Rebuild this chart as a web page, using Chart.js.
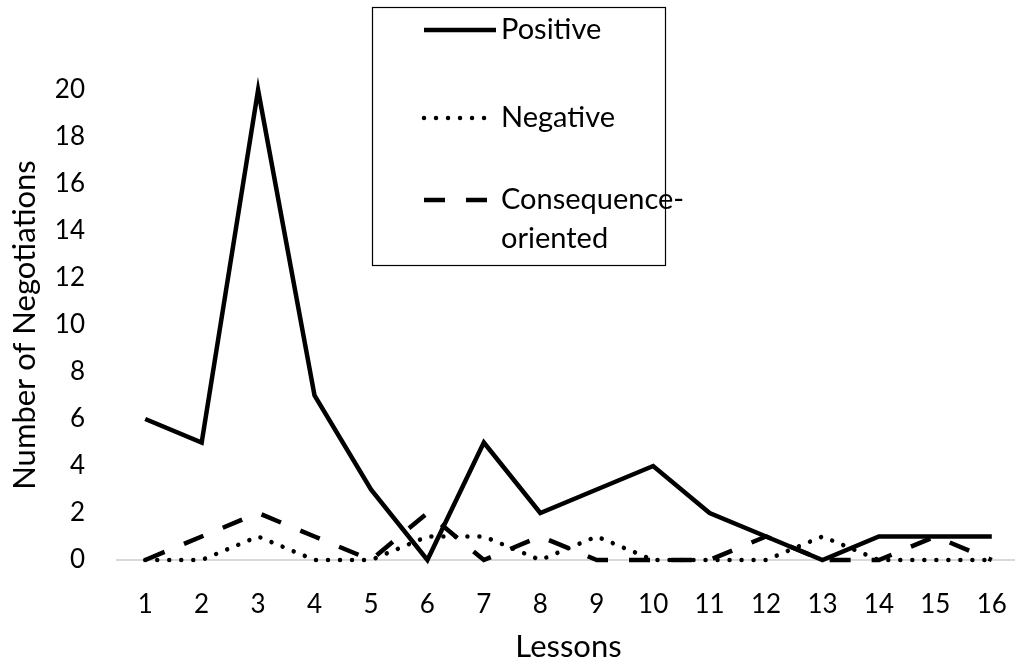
<!DOCTYPE html>
<html>
<head>
<meta charset="utf-8">
<script src="https://cdn.jsdelivr.net/npm/chart.js@4/dist/chart.umd.min.js"></script>
<style>
html,body{margin:0;padding:0;background:#fff;overflow:hidden;}
#wrap{width:1015px;height:666px;position:relative;overflow:hidden;}
</style>
</head>
<body>
<div id="wrap"><canvas id="c" width="1020" height="666"></canvas></div>
<script>
const lessons = ['1','2','3','4','5','6','7','8','9','10','11','12','13','14','15','16'];
const positive = [6,5,20,7,3,0,5,2,3,4,2,1,0,1,1,1];
const negative = [0,0,1,0,0,1,1,0,1,0,0,0,1,0,0,0];
const consequence = [0,1,2,1,0,2,0,1,0,0,0,1,0,0,1,0];
const legendLabels = [['Positive'], ['Negative'], ['Consequence-', 'oriented']];

const FONT = 'Lato, "Liberation Sans", sans-serif';

const boxLegend = {
  id: 'boxLegend',
  afterDraw(chart) {
    const ctx = chart.ctx;
    ctx.save();
    ctx.strokeStyle = '#000';
    ctx.lineWidth = 1.2;
    ctx.strokeRect(372.5, 7.5, 293, 258);
    const rows = [30, 118, 200];
    chart.data.datasets.forEach((ds, i) => {
      const y = rows[i];
      ctx.beginPath();
      ctx.lineWidth = ds.borderWidth;
      ctx.strokeStyle = ds.borderColor;
      ctx.lineCap = ds.borderCapStyle || 'butt';
      ctx.setLineDash(ds.borderDash || []);
      ctx.moveTo(424, y);
      ctx.lineTo(i === 0 ? 496 : 489, y);
      ctx.stroke();
      ctx.setLineDash([]);
      ctx.fillStyle = '#000';
      ctx.font = '29px ' + FONT;
      ctx.textBaseline = 'middle';
      ctx.textAlign = 'left';
      ds.legendLines.forEach((t, k) => ctx.fillText(t, 501, y + k * 39));
    });
    ctx.restore();
  }
};

new Chart(document.getElementById('c'), {
  type: 'line',
  data: {
    labels: lessons,
    datasets: [
      { label: 'Positive', legendLines: legendLabels[0], data: positive, borderColor: '#000', borderWidth: 4.5,
        borderJoinStyle: 'miter', borderCapStyle: 'butt', pointRadius: 0, tension: 0, clip: false },
      { label: 'Negative', legendLines: legendLabels[1], data: negative, borderColor: '#000', borderWidth: 4.5,
        borderDash: [0.01, 12], borderCapStyle: 'round', pointRadius: 0, tension: 0, clip: false },
      { label: 'Consequence-oriented', legendLines: legendLabels[2], data: consequence, borderColor: '#000', borderWidth: 4.5,
        borderDash: [21, 21], borderCapStyle: 'butt', pointRadius: 0, tension: 0, clip: false }
    ]
  },
  options: {
    responsive: false,
    animation: false,
    devicePixelRatio: 1,
    layout: { padding: { top: 90, right: 0, bottom: 0, left: 0 } },
    plugins: { legend: { display: false }, tooltip: { enabled: false } },
    scales: {
      x: {
        offset: true,
        grid: { display: false, drawTicks: false },
        border: { display: true, color: '#d9d9d9', width: 2 },
        ticks: { color: '#000', font: { family: FONT, size: 26 }, padding: 29, maxRotation: 0 },
        title: { display: true, text: 'Lessons', color: '#000', font: { family: FONT, size: 31 }, padding: 0 },
        afterFit(s) { s.height = 106; s.paddingLeft = 0; s.paddingRight = 0; }
      },
      y: {
        min: 0, max: 20,
        grid: { display: false, drawTicks: false },
        border: { display: false },
        ticks: { stepSize: 2, color: '#000', font: { family: FONT, size: 26 }, padding: 32 },
        title: { display: true, text: 'Number of Negotiations', color: '#000', font: { family: FONT, size: 31 }, padding: { top: 6, bottom: 0 } },
        afterFit(s) { s.width = 117; s.paddingTop = 0; s.paddingBottom = 0; }
      }
    }
  },
  plugins: [boxLegend]
});
</script>
</body>
</html>
